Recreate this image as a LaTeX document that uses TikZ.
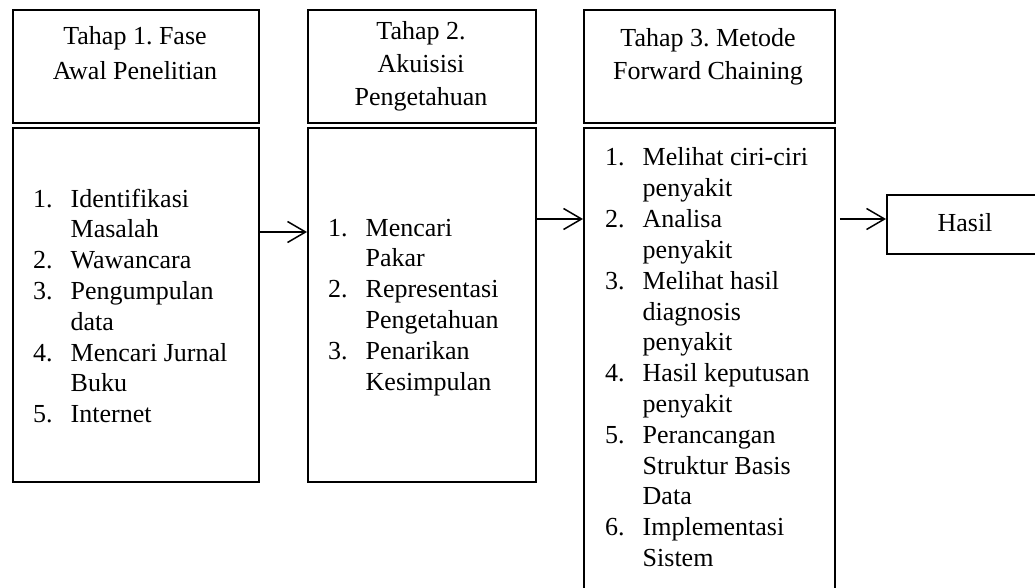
\documentclass[tikz,border=0pt]{standalone}
\usepackage{fontspec}
\setmainfont{Liberation Serif}
\usetikzlibrary{arrows.meta}
\frenchspacing
\begin{document}
\begin{tikzpicture}[x=1pt,y=-1pt,
  frame/.style={draw, line width=1.8pt, inner sep=0pt, anchor=north west},
  htext/.style={inner sep=0pt, anchor=base},
  ltext/.style={inner sep=0pt, anchor=base west, font=\fontsize{26}{30.8}\selectfont},
  arr/.style={line width=1.5pt, -{Straight Barb[length=18pt,width=21pt,line width=1.5pt]}}
]
\useasboundingbox (0,0) rectangle (1035,588);
\clip (0,0) rectangle (1035,588);
\newcommand{\nm}[1]{\makebox[37.5pt][l]{#1}}

% headers
\node[frame, minimum width=246pt, minimum height=113pt] (h1) at (12,9) {};
\node[frame, minimum width=228pt, minimum height=113pt] (h2) at (307,9) {};
\node[frame, minimum width=251pt, minimum height=113pt] (h3) at (583,9) {};

% bodies
\node[frame, minimum width=246pt, minimum height=354pt] (b1) at (12,127) {};
\node[frame, minimum width=228pt, minimum height=354pt] (b2) at (307,127) {};
\node[frame, minimum width=251pt, minimum height=480pt] (b3) at (583,127) {};

% result
\node[frame, minimum width=160pt, minimum height=59pt] (hs) at (886,194) {};
\node[htext, font=\fontsize{26}{31}\selectfont] (hst) at (965,231) {Hasil};

% header texts
\node[htext, font=\fontsize{26}{34.5}\selectfont] (t1) at (135,45)
  {\begin{tabular}[t]{@{}c@{}}Tahap 1. Fase\\Awal Penelitian\end{tabular}};
\node[htext, font=\fontsize{26}{33}\selectfont] (t2) at (421,40)
  {\begin{tabular}[t]{@{}c@{}}Tahap 2.\\Akuisisi\\Pengetahuan\end{tabular}};
\node[htext, font=\fontsize{26}{33}\selectfont] (t3) at (708,47)
  {\begin{tabular}[t]{@{}c@{}}Tahap 3. Metode\\Forward Chaining\end{tabular}};

% lists
\node[ltext] (l1) at (33,207) {\begin{tabular}[t]{@{}l@{}l@{}}
\nm{1.} & Identifikasi\\
 & Masalah\\
\nm{2.} & Wawancara\\
\nm{3.} & Pengumpulan\\
 & data\\
\nm{4.} & Mencari Jurnal\\
 & Buku\\
\nm{5.} & Internet
\end{tabular}};

\node[ltext] (l2) at (328,236) {\begin{tabular}[t]{@{}l@{}l@{}}
\nm{1.} & Mencari\\
 & Pakar\\
\nm{2.} & Representasi\\
 & Pengetahuan\\
\nm{3.} & Penarikan\\
 & Kesimpulan
\end{tabular}};

\node[ltext] (l3) at (605,166) {\begin{tabular}[t]{@{}l@{}l@{}}
\nm{1.} & Melihat ciri-ciri\\
 & penyakit\\
\nm{2.} & Analisa\\
 & penyakit\\
\nm{3.} & Melihat hasil\\
 & diagnosis\\
 & penyakit\\
\nm{4.} & Hasil keputusan\\
 & penyakit\\
\nm{5.} & Perancangan\\
 & Struktur Basis\\
 & Data\\
\nm{6.} & Implementasi\\
 & Sistem
\end{tabular}};

% arrows
\coordinate (y1) at (0,232);
\coordinate (y2) at (0,219);
\draw[arr] (b1.east |- y1) -- (b2.west |- y1);
\draw[arr] (b2.east |- y2) -- (b3.west |- y2);
\draw[arr, shorten <=4pt] (b3.east |- y2) -- (hs.west |- y2);
\end{tikzpicture}
\end{document}
